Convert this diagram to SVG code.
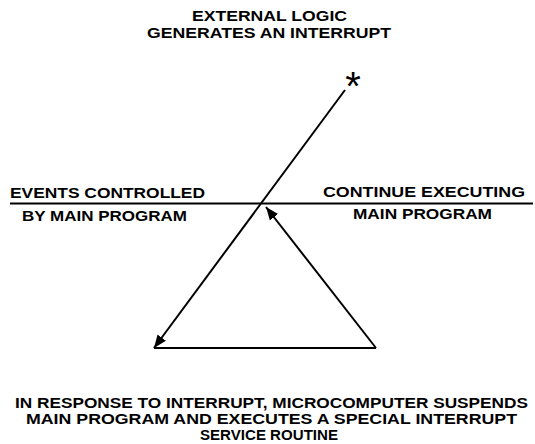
<svg xmlns="http://www.w3.org/2000/svg" width="535" height="444" viewBox="0 0 535 444">
<style>
text{font-family:"Liberation Sans",Arial,sans-serif;font-weight:bold;font-size:15.5px;fill:#000}
.b{font-size:14px}
.c{text-anchor:middle}
.ln{stroke:#000;stroke-width:2;fill:none}
</style>
<defs>
<marker id="ah2" viewBox="0 0 10 10" refX="10" refY="5" markerWidth="13" markerHeight="13" markerUnits="userSpaceOnUse" orient="auto">
<path d="M0,1 L10,5 L0,9 Z" fill="#000"/>
</marker>
</defs>
<g id="title"><text x="192" y="21" textLength="155" lengthAdjust="spacingAndGlyphs">EXTERNAL LOGIC</text><text x="147" y="38" textLength="244" lengthAdjust="spacingAndGlyphs">GENERATES AN INTERRUPT</text></g>
<g id="asterisk"><text class="c" x="353" y="100" style="font-size:40px;font-weight:normal">*</text></g>
<g id="left-label"><text x="10" y="198" textLength="195" lengthAdjust="spacingAndGlyphs">EVENTS CONTROLLED</text><text x="22" y="221" textLength="165" lengthAdjust="spacingAndGlyphs">BY MAIN PROGRAM</text></g>
<g id="right-label"><text x="323" y="197" textLength="202" lengthAdjust="spacingAndGlyphs">CONTINUE EXECUTING</text><text x="353" y="219" textLength="139" lengthAdjust="spacingAndGlyphs">MAIN PROGRAM</text></g>
<g id="bottom-label"><text class="b" x="15" y="408" textLength="513" lengthAdjust="spacingAndGlyphs">IN RESPONSE TO INTERRUPT, MICROCOMPUTER SUSPENDS</text><text class="b" x="26" y="424" textLength="491" lengthAdjust="spacingAndGlyphs">MAIN PROGRAM AND EXECUTES A SPECIAL INTERRUPT</text><text class="b" x="200" y="440" textLength="138" lengthAdjust="spacingAndGlyphs">SERVICE ROUTINE</text></g>
<g id="connectors">
<line class="ln" x1="10" y1="203.5" x2="533" y2="203.5"/>
<line class="ln" x1="345" y1="90" x2="154" y2="348" marker-end="url(#ah2)"/>
<line class="ln" x1="154" y1="348" x2="376" y2="348"/>
<line class="ln" x1="376" y1="348" x2="266" y2="207" marker-end="url(#ah2)"/>
</g>
</svg>
